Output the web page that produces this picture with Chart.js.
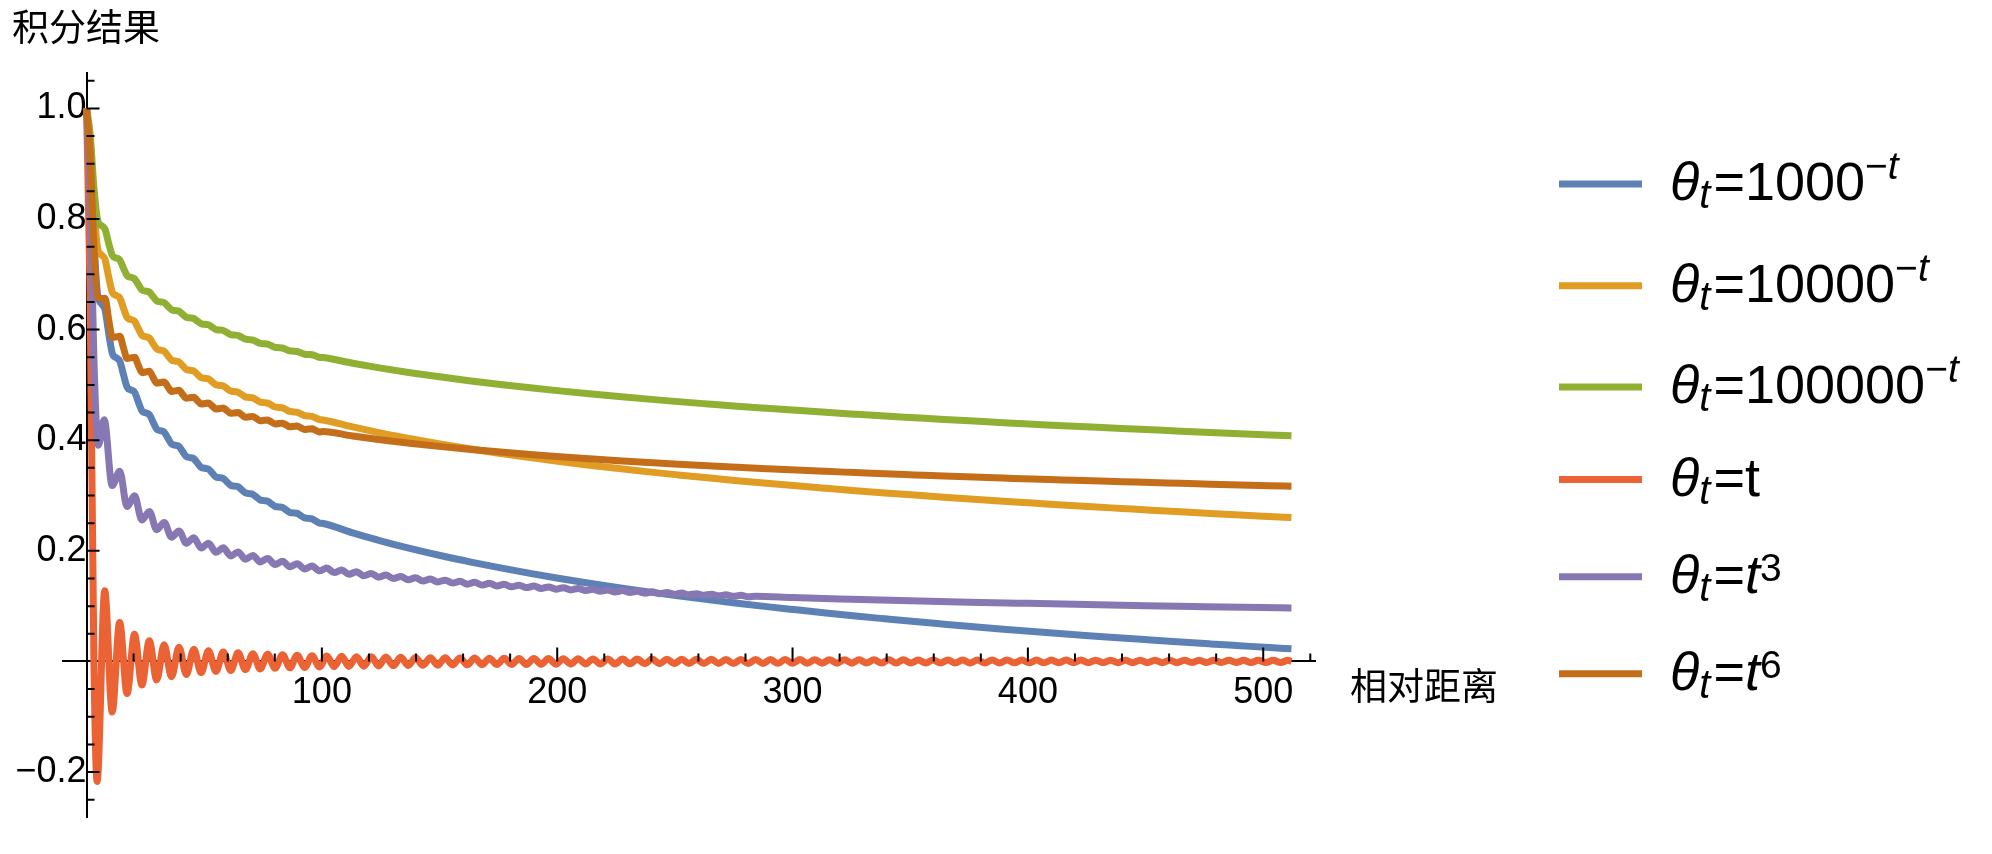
<!DOCTYPE html>
<html lang="zh">
<head>
<meta charset="utf-8">
<title>积分结果</title>
<script src="https://cdn.jsdelivr.net/npm/chart.js@4.4.1/dist/chart.umd.min.js"></script>
<style>
  html, body { margin: 0; padding: 0; background: #fff; overflow: hidden; }
  canvas { display: block; }
</style>
</head>
<body>
<canvas id="chart" width="1992" height="854"></canvas>
<script>
// Axis titles
const yTitle = '积分结果';
const xTitle = '相对距离';

// Relative distance samples for the four smooth curves
const smoothDist = [
  0, 1.57, 3.14, 4.71, 6.28, 7.85, 9.42, 11.0, 12.57, 14.14,
  15.71, 17.28, 18.85, 20.42, 21.99, 23.56, 25.13, 26.7, 28.27, 29.85,
  31.42, 32.99, 34.56, 36.13, 37.7, 39.27, 40.84, 42.41, 43.98, 45.55,
  47.12, 48.69, 50.27, 51.84, 53.41, 54.98, 56.55, 58.12, 59.69, 61.26,
  62.83, 64.4, 65.97, 67.54, 69.12, 70.69, 72.26, 73.83, 75.4, 76.97,
  78.54, 80.11, 81.68, 83.25, 84.82, 86.39, 87.96, 89.54, 91.11, 92.68,
  94.25, 95.82, 97.39, 98.96, 100.53, 113.1, 125.66, 138.23, 150.8, 163.36,
  175.93, 188.5, 201.06, 213.63, 226.19, 238.76, 251.33, 263.89, 276.46, 289.03,
  301.59, 314.16, 326.73, 339.29, 351.86, 364.42, 376.99, 389.56, 402.12, 414.69,
  427.26, 439.82, 452.39, 464.96, 477.52, 490.09, 502.65, 512
];

// θt = 1000^-t
const blueVals = [
  1, 0.9194, 0.7614, 0.6633, 0.6471, 0.6360, 0.5932, 0.5564, 0.5492, 0.5431,
  0.5183, 0.4956, 0.4909, 0.4868, 0.4693, 0.4529, 0.4495, 0.4463, 0.4328, 0.4200,
  0.4172, 0.4147, 0.4037, 0.3932, 0.3909, 0.3888, 0.3795, 0.3705, 0.3686, 0.3668,
  0.3588, 0.3510, 0.3493, 0.3477, 0.3406, 0.3337, 0.3323, 0.3308, 0.3245, 0.3184,
  0.3171, 0.3159, 0.3102, 0.3046, 0.3034, 0.3022, 0.2970, 0.2919, 0.2908, 0.2898,
  0.2850, 0.2803, 0.2793, 0.2783, 0.2739, 0.2695, 0.2686, 0.2677, 0.2636, 0.2595,
  0.2587, 0.2578, 0.2540, 0.2502, 0.2494, 0.2324, 0.2173, 0.2036, 0.1911, 0.1797,
  0.1691, 0.1593, 0.1501, 0.1415, 0.1335, 0.1258, 0.1186, 0.1118, 0.1053, 0.0991,
  0.0933, 0.0876, 0.0822, 0.0771, 0.0721, 0.0674, 0.0628, 0.0584, 0.0542, 0.0501,
  0.0461, 0.0423, 0.0387, 0.0351, 0.0317, 0.0284, 0.0251, 0.0228
];

// θt = 10000^-t
const yellowVals = [
  1, 0.9395, 0.8210, 0.7475, 0.7353, 0.7270, 0.6949, 0.6673, 0.6619, 0.6573,
  0.6387, 0.6217, 0.6182, 0.6151, 0.6020, 0.5897, 0.5871, 0.5847, 0.5746, 0.5650,
  0.5629, 0.5610, 0.5528, 0.5449, 0.5432, 0.5416, 0.5346, 0.5279, 0.5265, 0.5251,
  0.5191, 0.5132, 0.5120, 0.5108, 0.5055, 0.5003, 0.4992, 0.4981, 0.4934, 0.4888,
  0.4878, 0.4868, 0.4825, 0.4783, 0.4774, 0.4765, 0.4726, 0.4688, 0.4680, 0.4672,
  0.4636, 0.4601, 0.4593, 0.4585, 0.4552, 0.4520, 0.4512, 0.4505, 0.4475, 0.4444,
  0.4437, 0.4431, 0.4402, 0.4374, 0.4367, 0.4240, 0.4125, 0.4022, 0.3927, 0.3840,
  0.3760, 0.3685, 0.3615, 0.3549, 0.3487, 0.3428, 0.3373, 0.3320, 0.3269, 0.3221,
  0.3175, 0.3131, 0.3088, 0.3047, 0.3008, 0.2970, 0.2933, 0.2897, 0.2863, 0.2829,
  0.2797, 0.2766, 0.2735, 0.2705, 0.2676, 0.2648, 0.2621, 0.2601
];

// θt = 100000^-t
const greenVals = [
  1, 0.9516, 0.8568, 0.7980, 0.7883, 0.7816, 0.7559, 0.7338, 0.7295, 0.7259,
  0.7110, 0.6974, 0.6946, 0.6921, 0.6816, 0.6717, 0.6697, 0.6678, 0.6597, 0.6520,
  0.6503, 0.6488, 0.6422, 0.6359, 0.6345, 0.6333, 0.6277, 0.6223, 0.6212, 0.6201,
  0.6153, 0.6106, 0.6096, 0.6086, 0.6044, 0.6002, 0.5993, 0.5985, 0.5947, 0.5910,
  0.5902, 0.5894, 0.5860, 0.5827, 0.5819, 0.5812, 0.5781, 0.5750, 0.5744, 0.5737,
  0.5709, 0.5680, 0.5674, 0.5668, 0.5642, 0.5616, 0.5610, 0.5604, 0.5580, 0.5555,
  0.5550, 0.5545, 0.5522, 0.5499, 0.5494, 0.5392, 0.5300, 0.5217, 0.5142, 0.5072,
  0.5008, 0.4948, 0.4892, 0.4839, 0.4790, 0.4743, 0.4698, 0.4656, 0.4615, 0.4577,
  0.4540, 0.4504, 0.4470, 0.4437, 0.4406, 0.4375, 0.4346, 0.4317, 0.4290, 0.4263,
  0.4237, 0.4212, 0.4188, 0.4164, 0.4141, 0.4118, 0.4096, 0.4080
];

// θt = t^6
const brownVals = [
  1, 0.9147, 0.7511, 0.6585, 0.6562, 0.6568, 0.6181, 0.5858, 0.5868, 0.5881,
  0.5668, 0.5477, 0.5489, 0.5502, 0.5357, 0.5222, 0.5234, 0.5246, 0.5136, 0.5032,
  0.5043, 0.5054, 0.4966, 0.4882, 0.4893, 0.4903, 0.4830, 0.4759, 0.4769, 0.4778,
  0.4716, 0.4655, 0.4664, 0.4673, 0.4618, 0.4565, 0.4573, 0.4582, 0.4533, 0.4486,
  0.4494, 0.4502, 0.4458, 0.4416, 0.4423, 0.4431, 0.4391, 0.4353, 0.4360, 0.4366,
  0.4330, 0.4295, 0.4302, 0.4308, 0.4275, 0.4243, 0.4249, 0.4255, 0.4224, 0.4194,
  0.4201, 0.4206, 0.4178, 0.4150, 0.4156, 0.4075, 0.4004, 0.3941, 0.3884, 0.3833,
  0.3786, 0.3742, 0.3702, 0.3665, 0.3630, 0.3598, 0.3567, 0.3538, 0.3511, 0.3485,
  0.3460, 0.3437, 0.3415, 0.3393, 0.3373, 0.3353, 0.3334, 0.3316, 0.3298, 0.3282,
  0.3265, 0.3250, 0.3234, 0.3220, 0.3205, 0.3191, 0.3178, 0.3169
];

// θt = t : peaks and troughs of the oscillation
const redDist = [
  0, 1.5, 3.14, 4.49, 7.73, 10.9, 14.07, 17.22, 20.37, 23.52, 26.67, 29.81, 32.96,
  36.1, 39.3, 42.4, 45.6, 48.7, 51.8, 55.0, 58.1, 61.3, 64.4,
  67.5, 70.7, 73.8, 77.0, 80.1, 83.3, 86.4, 89.5, 92.7, 95.8,
  99.0, 102.1, 105.2, 108.4, 111.5, 114.7, 117.8, 121.0, 124.1, 127.2,
  130.4, 133.5, 136.7, 139.8, 142.9, 146.1, 149.2, 152.4, 155.5, 158.7,
  161.8, 164.9, 168.1, 171.2, 174.4, 177.5, 180.6, 183.8, 186.9, 190.1,
  193.2, 196.3, 199.5, 202.6, 205.8, 208.9, 212.1, 215.2, 218.3, 221.5,
  224.6, 227.8, 230.9, 234.0, 237.2, 240.3, 243.5, 246.6, 249.8, 252.9,
  256.0, 259.2, 262.3, 265.5, 268.6, 271.7, 274.9, 278.0, 281.2, 284.3,
  287.5, 290.6, 293.7, 296.9, 300.0, 303.2, 306.3, 309.4, 312.6, 315.7,
  318.9, 322.0, 325.2, 328.3, 331.4, 334.6, 337.7, 340.9, 344.0, 347.1,
  350.3, 353.4, 356.6, 359.7, 362.9, 366.0, 369.1, 372.3, 375.4, 378.6,
  381.7, 384.8, 388.0, 391.1, 394.3, 397.4, 400.6, 403.7, 406.8, 410.0,
  413.1, 416.3, 419.4, 422.5, 425.7, 428.8, 432.0, 435.1, 438.3, 441.4,
  444.5, 447.7, 450.8, 454.0, 457.1, 460.2, 463.4, 466.5, 469.7, 472.8,
  475.9, 479.1, 482.2, 485.4, 488.5, 491.7, 494.8, 497.9, 501.1, 504.2,
  507.4, 510.5, 512
];
const redVals = [
  1, 0.665, 0, -0.217, 0.128, -0.0913, 0.0709, -0.058, 0.049, -0.0425, 0.0375, -0.0335, 0.0303,
  -0.0277, 0.0255, -0.0236, 0.0220, -0.0205, 0.0193, -0.0182, 0.0172, -0.0163, 0.0155,
  -0.0148, 0.0141, -0.0135, 0.0130, -0.0125, 0.0120, -0.0116, 0.0112, -0.0108, 0.0104,
  -0.0101, 0.0098, -0.0095, 0.0092, -0.0090, 0.0087, -0.0085, 0.0083, -0.0081, 0.0079,
  -0.0077, 0.0075, -0.0073, 0.0072, -0.0070, 0.0068, -0.0067, 0.0066, -0.0064, 0.0063,
  -0.0062, 0.0061, -0.0059, 0.0058, -0.0057, 0.0056, -0.0055, 0.0054, -0.0054, 0.0053,
  -0.0052, 0.0051, -0.0050, 0.0049, -0.0049, 0.0048, -0.0047, 0.0046, -0.0046, 0.0045,
  -0.0045, 0.0044, -0.0043, 0.0043, -0.0042, 0.0042, -0.0041, 0.0041, -0.0040, 0.0040,
  -0.0039, 0.0039, -0.0038, 0.0038, -0.0037, 0.0037, -0.0036, 0.0036, -0.0036, 0.0035,
  -0.0035, 0.0034, -0.0034, 0.0034, -0.0033, 0.0033, -0.0033, 0.0032, -0.0032, 0.0032,
  -0.0031, 0.0031, -0.0031, 0.0030, -0.0030, 0.0030, -0.0030, 0.0029, -0.0029, 0.0029,
  -0.0029, 0.0028, -0.0028, 0.0028, -0.0028, 0.0027, -0.0027, 0.0027, -0.0027, 0.0026,
  -0.0026, 0.0026, -0.0026, 0.0026, -0.0025, 0.0025, -0.0025, 0.0025, -0.0025, 0.0024,
  -0.0024, 0.0024, -0.0024, 0.0024, -0.0023, 0.0023, -0.0023, 0.0023, -0.0023, 0.0023,
  -0.0022, 0.0022, -0.0022, 0.0022, -0.0022, 0.0022, -0.0022, 0.0021, -0.0021, 0.0021,
  -0.0021, 0.0021, -0.0021, 0.0021, -0.0020, 0.0020, -0.0020, 0.0020, -0.0020, 0.0020,
  -0.0020, 0.0020, 0.0002
];

// θt = t^3
const purpleDist = [
  0, 1.5, 3.14, 5.0, 7.5, 10.9, 14.1, 17.2, 20.4, 23.5,
  26.7, 29.8, 33.0, 36.1, 39.3, 42.4, 45.6, 48.7, 51.8, 55.0,
  58.1, 61.3, 64.4, 67.5, 70.7, 73.8, 77.0, 80.1, 83.3, 86.4,
  89.5, 92.7, 95.8, 99.0, 102.1, 105.2, 108.4, 111.5, 114.7, 117.8,
  121.0, 124.1, 127.2, 130.4, 133.5, 136.7, 139.8, 142.9, 146.1, 149.2,
  152.4, 155.5, 158.7, 161.8, 164.9, 168.1, 171.2, 174.4, 177.5, 180.6,
  183.8, 186.9, 190.1, 193.2, 196.3, 199.5, 202.6, 205.8, 208.9, 212.1,
  215.2, 218.3, 221.5, 224.6, 227.8, 230.9, 234.0, 237.2, 240.3, 243.5,
  246.6, 249.8, 252.9, 256.0, 259.2, 262.3, 265.5, 268.6, 271.7, 274.9,
  278.0, 281.2, 284.3, 300, 325, 350, 375, 400, 425, 450,
  475, 500, 512
];
const purpleVals = [
  1, 0.8547, 0.5455, 0.391, 0.437, 0.318, 0.344, 0.280, 0.2995, 0.2558,
  0.2713, 0.2382, 0.2514, 0.2247, 0.2360, 0.2139, 0.2238, 0.2050, 0.2139, 0.1974,
  0.2054, 0.1908, 0.1981, 0.1850, 0.1917, 0.1799, 0.1861, 0.1752, 0.1811, 0.1711,
  0.1766, 0.1673, 0.1725, 0.1638, 0.1688, 0.1606, 0.1653, 0.1577, 0.1621, 0.1549,
  0.1591, 0.1523, 0.1564, 0.1499, 0.1538, 0.1477, 0.1514, 0.1456, 0.1491, 0.1436,
  0.1470, 0.1417, 0.1449, 0.1398, 0.1430, 0.1381, 0.1412, 0.1365, 0.1395, 0.1350,
  0.1378, 0.1335, 0.1363, 0.1321, 0.1348, 0.1307, 0.1333, 0.1294, 0.1319, 0.1281,
  0.1306, 0.1269, 0.1293, 0.1257, 0.1281, 0.1246, 0.1269, 0.1235, 0.1258, 0.1225,
  0.1247, 0.1214, 0.1236, 0.1205, 0.1226, 0.1195, 0.1216, 0.1186, 0.1206, 0.1177,
  0.1197, 0.1169, 0.1178, 0.1155, 0.1125, 0.1097, 0.1072, 0.1050, 0.1029, 0.1009,
  0.0991, 0.0974, 0.0967
];

// Ticks
const xMajorTicks = [100, 200, 300, 400, 500];
const xMinorTicks = [20, 40, 60, 80, 120, 140, 160, 180, 220, 240, 260, 280, 320, 340, 360, 380, 420, 440, 460, 480, 520];
const yMajorTicks = [-0.2, 0.2, 0.4, 0.6, 0.8, 1.0];
const yMinorTicks = [-0.25, -0.15, -0.1, -0.05, 0.05, 0.1, 0.15, 0.25, 0.3, 0.35, 0.45, 0.5, 0.55,
  0.65, 0.7, 0.75, 0.85, 0.9, 0.95, 1.05];

// Legend text: θt = base^sup
const legendBase = ['1000', '10000', '100000', 't', 't', 't'];
const legendSup = ['−t', '−t', '−t', '', '3', '6'];

const seriesList = [
  { xs: smoothDist, ys: blueVals, color: '#5E81B5' },
  { xs: smoothDist, ys: yellowVals, color: '#E19C24' },
  { xs: smoothDist, ys: greenVals, color: '#8FB032' },
  { xs: redDist, ys: redVals, color: '#EB6235' },
  { xs: purpleDist, ys: purpleVals, color: '#8778B3' },
  { xs: smoothDist, ys: brownVals, color: '#C56E1A' }
];

const toPoints = (xs, ys) => {
  const n = Math.min(xs.length, ys.length);
  const pts = [];
  for (let i = 0; i < n; i++) pts.push({ x: xs[i], y: ys[i] });
  return pts;
};

const latin = '"Liberation Sans", Arial, sans-serif';
const cjk = '"Noto Sans CJK SC", sans-serif';

// Mathematica-style ticks (pointing into the plot), titles and legend
const decorPlugin = {
  id: 'decor',
  afterDraw(chart) {
    const ctx = chart.ctx;
    const xs = chart.scales.x;
    const ys = chart.scales.y;
    const x0 = xs.getPixelForValue(0);
    const y0 = ys.getPixelForValue(0);

    ctx.save();
    ctx.strokeStyle = '#000';
    ctx.lineWidth = 2;
    ctx.beginPath();
    xMajorTicks.forEach(v => { const p = xs.getPixelForValue(v); ctx.moveTo(p, y0); ctx.lineTo(p, y0 - 14); });
    xMinorTicks.forEach(v => { const p = xs.getPixelForValue(v); ctx.moveTo(p, y0); ctx.lineTo(p, y0 - 8); });
    yMajorTicks.forEach(v => { const p = ys.getPixelForValue(v); ctx.moveTo(x0, p); ctx.lineTo(x0 + 13, p); });
    yMinorTicks.forEach(v => { const p = ys.getPixelForValue(v); ctx.moveTo(x0, p); ctx.lineTo(x0 + 8, p); });
    ctx.stroke();

    // axis titles
    ctx.fillStyle = '#000';
    ctx.font = '37px ' + cjk;
    ctx.textBaseline = 'middle';
    ctx.textAlign = 'left';
    ctx.fillText(yTitle, 12, 27);
    ctx.fillText(xTitle, 1350, 686);

    // legend
    const rowY = [184, 285.7, 387.1, 479.6, 576.8, 673.8];
    ctx.textBaseline = 'alphabetic';
    seriesList.forEach((s, i) => {
      const ly = rowY[i];
      ctx.strokeStyle = s.color;
      ctx.lineWidth = 7;
      ctx.lineCap = 'butt';
      ctx.beginPath();
      ctx.moveTo(1559, ly);
      ctx.lineTo(1642, ly);
      ctx.stroke();

      const base = ly + 16;
      let x = 1670;
      const piece = (txt, font, dy, gap) => {
        ctx.font = font;
        ctx.fillText(txt, x, base + dy);
        x += ctx.measureText(txt).width + (gap || 0);
      };
      piece('θ', 'italic 54px ' + latin, 0);
      piece('t', 'italic 40px ' + latin, 8, 3);
      piece('=', '54px ' + latin, 0);
      piece(legendBase[i], (i >= 4 ? 'italic ' : '') + '54px ' + latin, 0);
      const sup = legendSup[i];
      if (sup.startsWith('−')) {
        piece('−', '39px ' + latin, -21);
        piece(sup.slice(1), 'italic 39px ' + latin, -21);
      } else if (sup) {
        piece(sup, '39px ' + latin, -12);
      }
    });
    ctx.restore();
  }
};

const ctx = document.getElementById('chart').getContext('2d');
const chart = new Chart(ctx, {
  type: 'line',
  data: {
    datasets: seriesList.map((s, i) => ({
      data: toPoints(s.xs, s.ys),
      borderColor: s.color,
      backgroundColor: s.color,
      order: seriesList.length - i
    }))
  },
  options: {
    responsive: false,
    animation: false,
    devicePixelRatio: 1,
    layout: { padding: { left: 63, right: 677, top: 73, bottom: 7 } },
    plugins: { legend: { display: false }, tooltip: { enabled: false } },
    elements: {
      point: { radius: 0, hoverRadius: 0 },
      line: { borderWidth: 7, cubicInterpolationMode: 'monotone', borderJoinStyle: 'round', fill: false }
    },
    scales: {
      x: {
        type: 'linear',
        min: -10,
        max: 522,
        position: { y: 0 },
        z: 1,
        grid: { display: false, drawTicks: false },
        border: { display: true, color: '#000', width: 2 },
        ticks: {
          color: '#000',
          font: { family: latin, size: 36 },
          padding: 10,
          maxRotation: 0,
          autoSkip: false,
          callback: v => String(v)
        },
        afterBuildTicks: scale => { scale.ticks = xMajorTicks.map(v => ({ value: v })); }
      },
      y: {
        type: 'linear',
        min: -0.282,
        max: 1.064,
        position: { x: 0 },
        z: 1,
        grid: { display: false, drawTicks: false },
        border: { display: true, color: '#000', width: 2 },
        ticks: {
          color: '#000',
          font: { family: latin, size: 36 },
          padding: 15,
          autoSkip: false,
          callback: v => (v < 0 ? '−' + Math.abs(v).toFixed(1) : v.toFixed(1))
        },
        afterBuildTicks: scale => { scale.ticks = yMajorTicks.map(v => ({ value: v })); }
      }
    }
  },
  plugins: [decorPlugin]
});
</script>
</body>
</html>
